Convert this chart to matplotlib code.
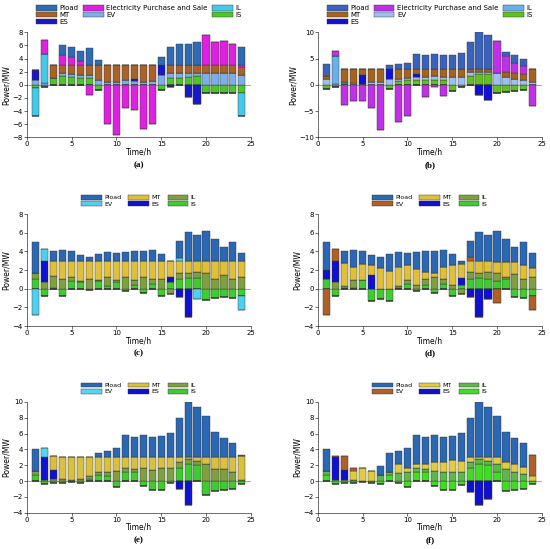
import numpy as np
import matplotlib.pyplot as plt
from matplotlib.patches import Patch

hours = np.arange(1, 25)

# ---- panel (a) ----
a_is = [-0.5, -0.4, 1.0, 1.3, 1.2, 1.0, 1.0, -0.8, 0, 0, 0, 0, 0, 0, -0.8, 1.0, 1.0, 1.2, 1.3, -1.3, -1.3, -1.2, -1.2, -1.2]
a_ev = [0.7, 0.3, 0, 0.5, 0.5, 0.5, 0.5, 0.7, 0.5, 0.5, 0.7, 0.6, 0.4, 0.6, 1.5, 0.8, 0.8, 0.6, 0.5, 1.8, 1.8, 1.8, 1.8, 1.5]
a_il = [-4.3, 4.4, 0, 0, 0, 0, 0, 0, 0, 0, 0, 0, 0, 0, 0, 0, 0, 0, 0, 0, 0, 0, 0, -3.6]
a_es = [1.6, 0, 0, 0, 0, -0.1, 0, 0, 0, 0, 0, 0.3, 0, 0, 1.5, -0.3, 0, -1.8, -3.0, 0, 0, 0, 0, 0]
a_mt = [0, 0, 2.0, 1.2, 1.3, 1.5, 1.5, 2.3, 2.5, 2.5, 2.3, 2.1, 2.6, 2.4, 0, 1.2, 1.2, 1.2, 1.2, 1.2, 1.2, 1.2, 1.2, 1.2]
a_eps = [0, 2.2, 0, 1.5, 1.3, 0.6, -1.6, 0, -6.0, -7.7, -3.5, -3.9, -6.8, -6.0, 0, 0, 0, 0, 0, 4.6, 3.6, 3.7, 3.2, 0.4]
a_pload = [0, 0, 0, 1.5, 1.5, 1.6, 2.6, 0.8, 0, 0, 0, 0, 0, 0, 1.2, 2.8, 3.2, 3.3, 3.5, 0, 0, 0, 0, 2.6]

# ---- panel (b) ----
b_is = [-0.8, -0.4, 0.3, 0, 0, 0, 0, -0.8, 0.8, 0.9, 1.0, 1.0, 1.0, 1.0, -1.2, -0.4, 1.6, 2.0, 2.0, -1.6, -1.3, -1.1, -1.0, 0]
b_ev = [1.2, 0.2, 0.2, 0.3, 0.2, 0.5, 0.6, 1.1, 0.4, 0.4, 0.4, 0.5, 0.6, 0.5, 1.5, 1.5, 0.8, 0.5, 0.5, 2.2, 1.5, 1.2, 1.0, 0.5]
b_il = [0, 5.3, 0, 0, 0, 0, 0, 0, 0, 0, 0, 0, 0, 0, 0, 0, 0, 0, 0, 0, 0, 0, 0, 0]
b_es = [0, 0, 0, 0, 1.7, 0, 0, 1.9, 0, 0, 0.6, 0, 0, 0, 0, 0, 0, -2.0, -2.8, 0, 0, 0, 0, 0]
b_mt = [0.5, 0, 2.5, 2.7, 1.1, 2.5, 2.4, 0, 1.8, 1.7, 1.0, 1.5, 1.4, 1.5, 1.5, 1.5, 0.6, 0.5, 0.5, 0, 1.0, 1.0, 1.0, 2.5]
b_eps = [0, 0.9, -3.9, -3.1, -3.0, -4.4, -8.7, 0, -7.0, -5.9, 0, -2.4, -0.5, -2.1, 0, 0, 0, 0, 0, 6.2, 3.0, 2.0, 1.5, -4.0]
b_pload = [2.3, 0, 0, 0, 0, 0, 0, 0.7, 0.9, 1.2, 2.8, 2.7, 2.9, 2.7, 2.7, 3.1, 5.1, 7.0, 6.5, 0, 0.8, 1.4, 1.4, 0]

# ---- panel (c) ----
c_is = [1.0, -0.8, 0.1, -0.8, 0.8, 0.7, -0.1, 0.8, 0.3, 0.7, -0.2, 0.4, -0.4, 0.5, -0.8, 0.7, 1.0, 1.2, 1.2, -1.2, -1.0, -0.9, -1.0, -0.8]
c_il = [0.7, 0.7, 1.3, 1.0, 0.5, 0.1, 1.1, 0.1, 1.0, 0.2, 1.3, 0.5, 1.3, 0.5, 1.0, -0.6, 0.7, 0.5, 0.6, 1.7, 1.1, 1.5, 1.0, 1.3]
c_es = [0, 2.3, 0, 0, 0, 0, 0, 0, 0, 0, 0, 0, 0, 0, 0, 0.6, -0.9, -3.0, 0, 0, 0, 0, 0, 0]
c_mt = [0, 0, 1.6, 2.0, 1.7, 2.2, 1.9, 2.1, 1.7, 2.1, 1.7, 2.1, 1.7, 2.0, 2.0, 1.7, 1.3, 1.3, 1.2, 1.3, 1.9, 1.5, 2.0, 1.7]
c_ev = [-2.8, 1.3, 0, 0, 0, 0, 0, 0, 0, 0, 0, 0, 0, 0, 0, 0, 0.3, 0, -1.1, 0, 0, 0, 0, -1.5]
c_pload = [3.3, 0, 1.0, 1.2, 1.1, 0.6, 0.4, 0.7, 0.9, 0.8, 0.9, 1.0, 1.1, 1.2, 0.7, 0, 1.8, 3.1, 2.8, 3.2, 2.3, 1.5, 2.0, 0.8]

# ---- panel (d) ----
d_is = [1.0, -0.8, 0.1, 0.1, 0.9, -1.3, -1.1, -1.3, 0.1, 0.5, -0.2, 0.4, -0.4, 0.5, -0.8, 0.4, 1.0, 1.2, 1.0, 0.8, 1.0, -0.9, -1.0, -0.8]
d_il = [0, 0.7, 0.2, 0.8, 0, 0, 0, 0, 0.2, 0.4, 0.4, 0.6, 1.3, 0.5, 0.4, -0.6, 0.8, 0.5, 0.8, 0.9, 0.3, 1.6, 1.0, 1.3]
d_es = [1.0, 2.3, 0, 0, 0, 1.5, 0, 0, 0, 0, 0, 0, 0, 0, 0, 0.8, -0.9, -3.0, -1.1, 0, 0, 0, 0, 0]
d_mt = [0, 0, 2.5, 1.4, 1.8, 1.0, 2.2, 1.9, 2.0, 1.6, 1.7, 0.8, 0.4, 1.3, 2.2, 1.5, 1.2, 1.3, 1.2, 1.2, 1.6, 1.3, 1.6, 0.9]
d_ev = [-2.8, 1.3, 0, 0, 0, 0, 0, 0, 0, 0, 0, 0, 0, 0, 0, 0, 0.4, 0, 0, -1.5, 0, 0, 0, -1.5]
d_pload = [3.0, 0, 1.2, 1.9, 1.4, 1.1, 1.2, 1.8, 1.6, 1.3, 1.8, 2.2, 2.4, 1.9, 1.1, 0.3, 1.7, 3.1, 2.8, 3.3, 2.4, 1.6, 2.4, 1.6]

# ---- panel (e) ----
e_is = [0.8, -0.4, -0.2, -0.2, -0.1, -0.2, 0.3, 0.8, 0.7, -0.8, 1.1, 1.1, -0.6, -1.1, -1.1, -0.2, 1.6, 2.1, 2.0, -1.7, -1.2, -1.1, -1.0, -0.4]
e_il = [0.5, 0.1, 0.3, 0.2, 0.1, 0.2, 0.4, 0.3, 0.4, 1.3, 0.5, 0.4, 1.7, 1.4, 1.7, 1.6, 0.8, 0.7, 0.5, 2.1, 1.5, 1.5, 1.1, 0.1]
e_es = [0, 2.9, 1.1, 0, 0, 0, 0, 0, 0, 0, 0, 0, 0, 0, 0, 0, -1.0, -3.0, 0, 0, 0, 0, 0, 0]
e_mt = [0, 0, 1.8, 2.9, 3.0, 2.9, 2.4, 2.0, 2.0, 1.8, 1.5, 1.6, 1.4, 1.7, 1.4, 1.5, 0.7, 0.3, 0.6, 1.0, 1.6, 1.6, 2.0, 3.1]
e_ev = [0, 1.2, 0, 0, 0, 0, 0, 0, 0, 0, 0, 0, 0, 0, 0, 0, 0, 0, 0, 0, 0, 0, 0, 0]
e_pload = [2.7, 0, 0, 0, 0, 0, 0, 0.5, 0.7, 1.1, 2.7, 2.5, 2.7, 2.5, 2.6, 3.0, 4.9, 6.9, 6.3, 5.1, 3.1, 2.4, 1.7, 0.1]

# ---- panel (f) ----
f_is = [0.8, -0.4, -0.2, -0.2, -0.1, -0.2, -0.4, 0.8, -0.3, -0.8, 1.1, 1.1, -0.6, -1.1, -1.1, -0.5, 1.6, 2.1, 2.0, 1.2, -1.2, -1.1, -1.0, -0.4]
f_il = [0.5, 0.1, 0.1, 0.1, 0, 0, 0.8, 0.3, 1.0, 1.2, 0.5, 0.4, 1.3, 1.2, 1.2, 1.2, 0.8, 0.7, 0.5, 0.9, 1.5, 1.2, 0.9, 0]
f_es = [0, 2.9, 1.3, 0, 0, 0, 0, 0, 0, 0, 0, 0, 0, 0, 0, 0, -1.4, -3.0, -2.3, 0, 0, 0, 0, 0]
f_mt = [0, 0, 0, 1.2, 1.6, 1.3, 0, 0, 1.1, 0.5, 0.6, 0.7, 1.1, 1.2, 1.5, 1.3, 0.7, 0.3, 0.6, 1.0, 0.9, 0.9, 0.9, 0.6]
f_ev = [0, 0.2, 1.8, 0.4, 0, 0, 0, 0, 0, 0, 0, 0, 0, 0, 0, 0, 0, 0, 0, 0, 0, 0, 0, 2.7]
f_pload = [2.7, 0, 0, 0, 0, 0, 1.1, 2.5, 1.7, 2.5, 3.6, 3.4, 3.4, 3.2, 3.0, 3.6, 4.9, 6.9, 6.3, 5.1, 3.8, 3.4, 3.0, 0]

EPS = 'Electricity Purchase and Sale'


def draw_panel(ax, stack, colors, legend_order, ylim, yticks, fs_leg, hl, cs):
    # stack: list of (name, values) from bottom to top
    pos = np.zeros(24)
    neg = np.zeros(24)
    for name, vals in stack:
        v = np.array(vals, dtype=float)
        p = np.where(v > 0, v, 0)
        n = np.where(v < 0, v, 0)
        ax.bar(hours, p, bottom=pos, width=0.8, color=colors[name],
               edgecolor='#333333', linewidth=0.3)
        ax.bar(hours, n, bottom=neg, width=0.8, color=colors[name],
               edgecolor='#333333', linewidth=0.3)
        pos += p
        neg += n
    ax.axhline(0, color='#888888', lw=0.5, zorder=0)
    ax.set_xlim(0, 25)
    ax.set_ylim(*ylim)
    ax.set_xticks([0, 5, 10, 15, 20, 25])
    ax.set_yticks(yticks)
    ax.tick_params(labelsize=5, length=2, width=0.4, pad=1)
    for s in ['top', 'right']:
        ax.spines[s].set_visible(False)
    for s in ['left', 'bottom']:
        ax.spines[s].set_linewidth(0.4)
    ax.set_xlabel('Time/h', fontsize=5.5, labelpad=0)
    ax.set_ylabel('Power/MW', fontsize=5.5, labelpad=1)
    handles = [Patch(facecolor=colors[n], edgecolor='#333333', linewidth=0.3) for n in legend_order]
    ax.legend(handles, legend_order, ncol=3, loc='lower center',
              bbox_to_anchor=(0.5, 1.04), fontsize=fs_leg, frameon=False,
              handlelength=hl, handleheight=0.8, columnspacing=cs,
              labelspacing=0.08, handletextpad=0.4, borderpad=0)


fig = plt.figure(figsize=(5.5, 5.49), dpi=100)
col_x = [0.049, 0.578]
row_y = [0.750, 0.406, 0.066]
w = 0.407
hs = [0.191, 0.204, 0.202]

axes = {}
labels = ['a', 'b', 'c', 'd', 'e', 'f']
for i, lab in enumerate(labels):
    r, c = divmod(i, 2)
    axes[lab] = fig.add_axes([col_x[c], row_y[r], w, hs[r]])

col_a = {'Pload': '#2f6bb5', EPS: '#e020e0', 'IS': '#4ec52a', 'MT': '#a8622a',
         'EV': '#7eaee8', 'ES': '#1818c8', 'IL': '#46c8ea'}
col_b = {'Pload': '#3a62bc', EPS: '#c030e8', 'IS': '#62c020', 'MT': '#a5641e',
         'EV': '#9cc0f0', 'ES': '#1010d8', 'IL': '#68b0ea'}
col_c = {'Pload': '#2a68b4', 'EV': '#50d0f0', 'MT': '#e0c038', 'ES': '#1010d0',
         'IL': '#7ea040', 'IS': '#3ecc30'}
col_d = dict(col_c, EV='#b06024')
col_e = dict(col_c, EV='#50d8f0', MT='#d8c040')
col_f = {'Pload': '#2a68b4', 'EV': '#b0602a', 'MT': '#e0cc40', 'ES': '#1010d0',
         'IL': '#5cb848', 'IS': '#40dd20'}

order_ab = ['Pload', 'MT', 'ES', EPS, 'EV', 'IL', 'IS']
order_cf = ['Pload', 'EV', 'MT', 'ES', 'IL', 'IS']

draw_panel(axes['a'], [('IS', a_is), ('EV', a_ev), ('IL', a_il), ('ES', a_es),
                       ('MT', a_mt), (EPS, a_eps), ('Pload', a_pload)],
           col_a, order_ab, (-8, 8), np.arange(-8, 9, 2), 5, 3.0, 0.6)
draw_panel(axes['b'], [('IS', b_is), ('EV', b_ev), ('IL', b_il), ('ES', b_es),
                       ('MT', b_mt), (EPS, b_eps), ('Pload', b_pload)],
           col_b, order_ab, (-10, 10), np.arange(-10, 11, 5), 5, 3.0, 0.6)
draw_panel(axes['c'], [('IS', c_is), ('IL', c_il), ('ES', c_es), ('MT', c_mt),
                       ('EV', c_ev), ('Pload', c_pload)],
           col_c, order_cf, (-4, 8), np.arange(-4, 9, 2), 4.5, 3.3, 1.1)
draw_panel(axes['d'], [('IS', d_is), ('IL', d_il), ('ES', d_es), ('MT', d_mt),
                       ('EV', d_ev), ('Pload', d_pload)],
           col_d, order_cf, (-4, 8), np.arange(-4, 9, 2), 4.5, 3.3, 1.1)
draw_panel(axes['e'], [('IS', e_is), ('IL', e_il), ('ES', e_es), ('MT', e_mt),
                       ('EV', e_ev), ('Pload', e_pload)],
           col_e, order_cf, (-4, 10), np.arange(-4, 11, 2), 4.5, 3.3, 1.1)
draw_panel(axes['f'], [('IS', f_is), ('IL', f_il), ('ES', f_es), ('MT', f_mt),
                       ('EV', f_ev), ('Pload', f_pload)],
           col_f, order_cf, (-4, 10), np.arange(-4, 11, 2), 4.5, 3.3, 1.1)

# captions under each panel
cap_y = [1 - 165 / 549, 1 - 353 / 549, 1 - 540 / 549]
for i, lab in enumerate(labels):
    r, c = divmod(i, 2)
    fig.text(col_x[c] + w / 2, cap_y[r], '(%s)' % lab, ha='center', va='center',
             fontsize=6.5, fontweight='bold', family='Liberation Serif')

fig.savefig('out.png', dpi=100)
